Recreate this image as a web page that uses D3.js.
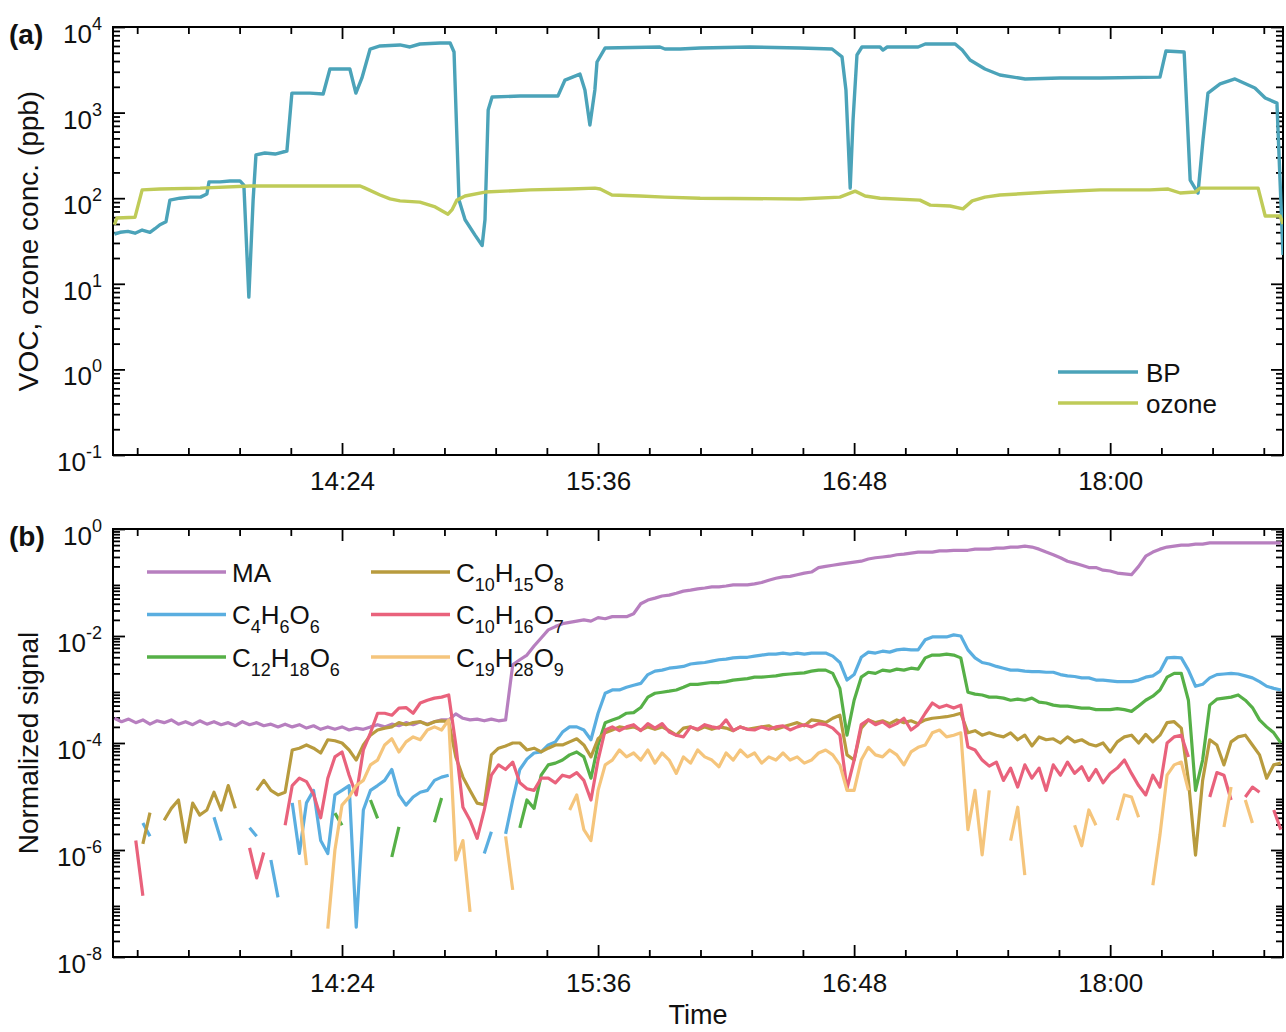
<!DOCTYPE html>
<html>
<head>
<meta charset="utf-8">
<script src="https://cdn.jsdelivr.net/npm/d3@7"></script>
<style>
  body { margin: 0; background: #fff; }
  svg { display: block; font-family: Arial, "Liberation Sans", Helvetica, sans-serif; }
</style>
</head>
<body>
<svg id="chart" width="1286" height="1032"></svg>
<script>
// Time is in minutes after midnight

// Panel (a): BP
var bpTime = [
  800, 801.6, 803.8, 805.8, 807.8, 810, 811.4, 812.8, 814.5, 815.6,
  818.4, 821.3, 824.2, 826, 826.6, 829.7, 832.5, 835.3, 836.4, 837.8,
  839, 839.8, 842.3, 845.2, 848.5, 849.9, 855, 858.7, 860.6, 866.2,
  867.9, 869.6, 871.9, 874.7, 880.3, 883.1, 885.9, 891.6, 894.4, 895.5,
  896.9, 898.6, 901.4, 903.4, 904.2, 905.1, 906.2, 914.1, 924.7, 926.7,
  930.9, 932.3, 933.7, 935.1, 935.7, 938, 953.4, 954.8, 959.1, 964.7,
  978.7, 992.8, 1001.8, 1004.6, 1005.7, 1006.9, 1007.7, 1008.8, 1010.2, 1015.3,
  1016.1, 1017.3, 1026, 1028, 1036.4, 1038.4, 1040.6, 1044.8, 1049, 1056.1,
  1065.9, 1077.2, 1094, 1095.7, 1100.8, 1102.5, 1104.7, 1106.1, 1107.5, 1110.9,
  1115.1, 1120.7, 1123.6, 1126.9, 1128.6
];
var bpConc = [
  38, 40, 41, 39, 42.5, 40, 44, 49, 53, 95,
  100, 103, 103, 112, 155, 155, 159, 159, 142, 7,
  95, 320, 337, 328, 356, 1690, 1690, 1650, 3230, 3230,
  1690, 2540, 5530, 6000, 6170, 5840, 6330, 6500, 6500, 5100,
  95, 56, 37, 28, 56, 1070, 1520, 1560, 1560, 2400,
  2820, 1840, 716, 1840, 3900, 5690, 5840, 5530, 5530, 5690,
  5840, 5690, 5530, 4470, 1840, 131, 820, 4710, 5840, 5840,
  5380, 5840, 5840, 6330, 6330, 5380, 4110, 3230, 2750, 2470,
  2540, 2540, 2600, 5250, 5100, 163, 115, 478, 1690, 2160,
  2470, 1940, 1480, 1290, 21.7
];

// Panel (a): ozone
var ozTime = [
  800, 800.7, 805.8, 807.8, 812.8, 824.1, 838.1, 852.2, 863.4, 869.1,
  870.5, 874.7, 877.5, 880.3, 885.9, 890.2, 893.8, 894.9, 896.3, 898.6,
  904.2, 916.9, 928.1, 935.1, 936.6, 939.9, 947.8, 954.8, 964.7, 992.8,
  1004, 1008.3, 1011.1, 1015.3, 1026.5, 1029.4, 1035, 1038.6, 1041.2, 1044.8,
  1049, 1063.1, 1077.2, 1091.2, 1096.3, 1099.7, 1103.9, 1105.3, 1121.6, 1123.6,
  1127.8, 1128.6
];
var ozConc = [
  49, 58.7, 60, 125, 128, 131, 139, 139, 139, 139,
  131, 109, 98, 93, 90, 79, 65, 73, 95, 106,
  118, 125, 128, 131, 128, 109, 106, 103, 100, 98,
  103, 121, 106, 100, 95, 83, 81, 75, 93, 103,
  109, 118, 125, 125, 128, 115, 118, 131, 131, 62,
  62, 50
];

// Panel (b): signals sampled every 2 min from 13:20
var sigStart = 800, sigStep = 2;

var maSig = [
  2.9e-4, 2.5e-4, 2.8e-4, 2.4e-4, 2.7e-4, 2.25e-4, 2.6e-4, 2.4e-4, 2.7e-4, 2.25e-4,
  2.5e-4, 2.2e-4, 2.6e-4, 2.25e-4, 2.5e-4, 2.2e-4, 2.4e-4, 2.1e-4, 2.5e-4, 2.2e-4,
  2.4e-4, 2.1e-4, 2.25e-4, 2e-4, 2.25e-4, 2e-4, 2.2e-4, 1.9e-4, 2.1e-4, 1.8e-4,
  2e-4, 1.8e-4, 2e-4, 1.75e-4, 1.9e-4, 1.8e-4, 2e-4, 2.2e-4, 2e-4, 2.25e-4,
  2.1e-4, 2.4e-4, 2.2e-4, 2.5e-4, 2.25e-4, 2.5e-4, 2.7e-4, 2.7e-4, 3.5e-4, 2.9e-4,
  2.7e-4, 2.8e-4, 2.6e-4, 2.8e-4, 2.6e-4, 2.7e-4, 2.9e-3, 3.6e-3, 4.4e-3, 6.5e-3,
  9.2e-3, 1.3e-2, 1.5e-2, 1.7e-2, 1.8e-2, 1.9e-2, 2e-2, 1.9e-2, 2.2e-2, 2.1e-2,
  2.3e-2, 2.3e-2, 2.3e-2, 2.6e-2, 4e-2, 4.7e-2, 5.1e-2, 5.6e-2, 5.8e-2, 6.3e-2,
  6.9e-2, 7.2e-2, 7.6e-2, 7.9e-2, 8.3e-2, 8.3e-2, 8.6e-2, 9e-2, 9e-2, 9e-2,
  9.4e-2, 0.1, 0.11, 0.12, 0.127, 0.13, 0.14, 0.15, 0.157, 0.19,
  0.2, 0.21, 0.22, 0.23, 0.24, 0.25, 0.275, 0.29, 0.3, 0.31,
  0.33, 0.34, 0.355, 0.37, 0.37, 0.37, 0.39, 0.39, 0.4, 0.4,
  0.4, 0.42, 0.42, 0.42, 0.44, 0.44, 0.46, 0.46, 0.48, 0.46,
  0.42, 0.37, 0.33, 0.29, 0.25, 0.23, 0.21, 0.19, 0.19, 0.17,
  0.164, 0.15, 0.145, 0.14, 0.2, 0.31, 0.37, 0.42, 0.46, 0.48,
  0.5, 0.5, 0.52, 0.52, 0.55, 0.55, 0.55, 0.55, 0.55, 0.55,
  0.55, 0.55, 0.55, 0.55, 0.55
];

var c4h6o6Sig = [
  null, null, null, null, 3.2e-6, 1.8e-6, null, null, null, null,
  null, null, null, null, 4.1e-6, 1.5e-6, null, null, null, 2.6e-6,
  1.8e-6, null, 6.5e-7, 1.3e-7, null, 7.6e-6, 8.6e-7, 7.6e-6, 1.3e-5, 1.5e-6,
  8.6e-7, 1.07e-5, 1.3e-5, 1.6e-5, 3.6e-8, 5.6e-6, 1.3e-5, 1.6e-5, 2e-5, 3.2e-5,
  1.07e-5, 6.9e-6, 9.8e-6, 1.2e-5, 1.3e-5, 2e-5, 2.3e-5, 2.5e-5, null, null,
  null, null, 8.6e-7, 2.2e-6, null, 2e-6, 8.6e-6, 3.2e-5, 5e-5, 6.5e-5,
  6.8e-5, 9.2e-5, 1.05e-4, 1.6e-4, 2e-4, 2e-4, 1.75e-4, 1.15e-4, 3.6e-4, 8.5e-4,
  9.8e-4, 9.8e-4, 1.1e-3, 1.2e-3, 1.3e-3, 1.9e-3, 2.2e-3, 2.3e-3, 2.5e-3, 2.6e-3,
  2.7e-3, 3e-3, 3.1e-3, 3.2e-3, 3.4e-3, 3.6e-3, 3.7e-3, 3.9e-3, 4e-3, 4e-3,
  4.2e-3, 4.4e-3, 4.6e-3, 4.6e-3, 4.8e-3, 4.6e-3, 4.8e-3, 4.6e-3, 4.8e-3, 4.8e-3,
  4.8e-3, 4.2e-3, 3.2e-3, 1.5e-3, 1.9e-3, 4e-3, 5e-3, 4.8e-3, 5.2e-3, 5e-3,
  5.5e-3, 5.7e-3, 5.5e-3, 5.5e-3, 8.5e-3, 9.6e-3, 9.6e-3, 9.6e-3, 1.05e-2, 1e-2,
  5.5e-3, 3.9e-3, 3.2e-3, 3e-3, 2.7e-3, 2.5e-3, 2.3e-3, 2.3e-3, 2.2e-3, 2.15e-3,
  2.15e-3, 2.1e-3, 2.1e-3, 1.9e-3, 1.8e-3, 1.75e-3, 1.65e-3, 1.65e-3, 1.5e-3, 1.5e-3,
  1.45e-3, 1.4e-3, 1.4e-3, 1.4e-3, 1.5e-3, 1.7e-3, 1.8e-3, 2.2e-3, 3.9e-3, 4e-3,
  3.9e-3, 2.3e-3, 1.15e-3, 1.25e-3, 1.65e-3, 1.9e-3, 1.95e-3, 2e-3, 1.95e-3, 1.8e-3,
  1.65e-3, 1.4e-3, 1.15e-3, 1.05e-3, 9.8e-4
];

var c12h18o6Sig = [
  null, null, null, null, null, null, null, null, null, null,
  null, null, null, null, null, null, null, null, null, null,
  null, null, null, null, null, null, null, null, null, null,
  null, 4.9e-6, 2.9e-6, null, null, null, 8.6e-6, 3.9e-6, null, 7.4e-7,
  2.7e-6, null, null, null, null, 3.3e-6, 9.4e-6, null, null, null,
  null, null, null, null, null, null, null, 2.6e-6, 8.6e-6, 6e-6,
  2.5e-5, 3.9e-5, 4.2e-5, 4.8e-5, 6e-5, 6.8e-5, 5.5e-5, 2.2e-5, 9.2e-5, 2.4e-4,
  2.7e-4, 3e-4, 3.6e-4, 3.7e-4, 4.6e-4, 7.2e-4, 8.5e-4, 8.9e-4, 9.3e-4, 9.8e-4,
  1.1e-3, 1.25e-3, 1.25e-3, 1.3e-3, 1.35e-3, 1.35e-3, 1.4e-3, 1.5e-3, 1.55e-3, 1.6e-3,
  1.7e-3, 1.7e-3, 1.75e-3, 1.8e-3, 1.9e-3, 1.95e-3, 2e-3, 2.05e-3, 2.2e-3, 2.3e-3,
  2.3e-3, 2e-3, 1.05e-3, 1.4e-4, 6.3e-4, 1.7e-3, 2.1e-3, 2e-3, 2.3e-3, 2.2e-3,
  2.4e-3, 2.3e-3, 2.5e-3, 2.4e-3, 3.9e-3, 4.4e-3, 4.4e-3, 4.6e-3, 4.4e-3, 3.9e-3,
  8.9e-4, 8.2e-4, 7.9e-4, 7.2e-4, 7.2e-4, 6.9e-4, 6.3e-4, 6.6e-4, 6.3e-4, 6.9e-4,
  5.8e-4, 5.6e-4, 5.1e-4, 4.9e-4, 4.9e-4, 4.7e-4, 4.5e-4, 4.5e-4, 4.2e-4, 4.2e-4,
  4.2e-4, 4.4e-4, 4.2e-4, 3.9e-4, 4.9e-4, 6.3e-4, 7.5e-4, 9.8e-4, 1.7e-3, 2e-3,
  2e-3, 6.3e-4, 1.3e-5, 4.8e-5, 5.1e-4, 6.6e-4, 6.9e-4, 7.2e-4, 7.9e-4, 6.3e-4,
  4.6e-4, 2.7e-4, 2e-4, 1.55e-4, 1e-4
];

var c10h15o8Sig = [
  null, null, null, null, 1.3e-6, 5e-6, null, 3.6e-6, 6e-6, 8.6e-6,
  1.4e-6, 7.5e-6, 4.5e-6, 5.6e-6, 1.2e-5, 5.6e-6, 1.6e-5, 6e-6, null, null,
  1.3e-5, 2e-5, 1.3e-5, 1.07e-5, 1.2e-5, 7.4e-5, 8e-5, 9.2e-5, 8e-5, 6.5e-5,
  1.15e-4, 1.1e-4, 1e-4, 7.4e-5, 4.8e-5, 9.2e-5, 1.4e-4, 1.75e-4, 1.9e-4, 2e-4,
  2.4e-4, 2.2e-4, 2.4e-4, 2.5e-4, 2.2e-4, 2.5e-4, 2.6e-4, 2.5e-4, 5.5e-5, 2.3e-5,
  1.3e-5, 7.5e-6, 7e-6, 6e-5, 8e-5, 8.8e-5, 1e-4, 1e-4, 7.4e-5, 8e-5,
  6.8e-5, 8e-5, 9.2e-5, 9.2e-5, 1.05e-4, 1.2e-4, 9.2e-5, 5.5e-5, 1.2e-4, 1.55e-4,
  1.75e-4, 2e-4, 1.9e-4, 2e-4, 1.75e-4, 2e-4, 1.8e-4, 2e-4, 1.7e-4, 1.4e-4,
  1.9e-4, 2e-4, 1.75e-4, 2e-4, 1.8e-4, 2e-4, 1.9e-4, 1.7e-4, 2e-4, 1.8e-4,
  1.9e-4, 2e-4, 2.1e-4, 1.8e-4, 2e-4, 2.2e-4, 2.4e-4, 2.1e-4, 2.7e-4, 2.6e-4,
  2.4e-4, 2.9e-4, 3.3e-4, 6e-5, 4.8e-5, 1.9e-4, 2.7e-4, 2.4e-4, 2.6e-4, 2.3e-4,
  2.7e-4, 2.4e-4, 2.6e-4, 2.3e-4, 2.7e-4, 2.9e-4, 3e-4, 3.1e-4, 3.3e-4, 3.6e-4,
  1.55e-4, 1.7e-4, 1.4e-4, 1.55e-4, 1.4e-4, 1.3e-4, 1.55e-4, 1.15e-4, 1.4e-4, 8.8e-5,
  1.3e-4, 1.15e-4, 1.2e-4, 1e-4, 1.3e-4, 1.05e-4, 1.15e-4, 9.6e-5, 8.8e-5, 1e-4,
  6.8e-5, 1.05e-4, 1.3e-4, 1.4e-4, 1e-4, 1.45e-4, 1.05e-4, 1.4e-4, 2.4e-4, 2.5e-4,
  1.9e-4, 2e-5, 8e-7, 2e-5, 1.15e-4, 9.2e-5, 3.9e-5, 1.05e-4, 1.3e-4, 1.4e-4,
  9.2e-5, 6e-5, 2.2e-5, 3.9e-5, 4.2e-5
];

var c10h16o7Sig = [
  null, null, null, 1.5e-6, 1.4e-7, null, null, null, null, null,
  null, null, null, null, null, null, null, null, null, 1.1e-6,
  3e-7, 9e-7, null, null, 2.9e-6, 1.6e-5, 2.2e-5, 1.9e-5, 1.1e-5, 4e-6,
  2.2e-5, 5.5e-5, 6.8e-5, 2.5e-5, 1.07e-5, 7.4e-5, 1.55e-4, 3.6e-4, 3.6e-4, 3.3e-4,
  4.5e-4, 4.6e-4, 3.6e-4, 5.6e-4, 6.3e-4, 6.9e-4, 7.2e-4, 7.9e-4, 9.2e-5, 6.3e-6,
  3.6e-6, 1.65e-6, 5.6e-6, 2.5e-5, 3.9e-5, 3.2e-5, 4.4e-5, 1.8e-5, 1.4e-5, 1.3e-5,
  2.2e-5, 2.2e-5, 1.8e-5, 2.5e-5, 2.3e-5, 2.8e-5, 2e-5, 8.6e-6, 4.8e-5, 1.75e-4,
  2e-4, 1.7e-4, 2e-4, 2.2e-4, 1.7e-4, 2.3e-4, 1.9e-4, 2.3e-4, 1.6e-4, 1.4e-4,
  1.3e-4, 2e-4, 1.8e-4, 2.2e-4, 2e-4, 1.9e-4, 2.7e-4, 1.7e-4, 2e-4, 1.8e-4,
  1.75e-4, 2e-4, 1.8e-4, 2e-4, 2.1e-4, 1.75e-4, 2e-4, 2.2e-4, 2e-4, 2.3e-4,
  2.2e-4, 1.9e-4, 1.4e-4, 1.4e-5, 4.8e-5, 2.2e-4, 2.7e-4, 2.2e-4, 2.5e-4, 2e-4,
  2.3e-4, 2.9e-4, 1.75e-4, 2.2e-4, 3.6e-4, 5.6e-4, 4.6e-4, 5.1e-4, 4.5e-4, 5.1e-4,
  8.4e-5, 7.4e-5, 4.8e-5, 3.7e-5, 4.4e-5, 2e-5, 3.4e-5, 1.5e-5, 3.9e-5, 2.2e-5,
  3.4e-5, 1.3e-5, 3.9e-5, 2.5e-5, 4.4e-5, 2.7e-5, 3.6e-5, 2e-5, 3.2e-5, 1.8e-5,
  2.7e-5, 3.4e-5, 4.8e-5, 2.7e-5, 1.6e-5, 1.07e-5, 2.5e-5, 1.5e-5, 1e-4, 1.3e-4,
  1.4e-4, 5.5e-5, null, null, 9.8e-6, 2.8e-5, 2.5e-5, 8.6e-6, null, 9.8e-6,
  1.5e-5, 1.2e-5, null, 5.6e-6, 2.4e-6
];

var c19h28o9Sig = [
  null, null, null, null, null, null, null, null, null, null,
  null, null, null, null, null, null, null, null, null, null,
  null, null, null, null, null, null, 8.6e-6, 5.2e-7, null, null,
  3.4e-8, 1e-6, 6.9e-6, 9.8e-6, 1.6e-5, 2e-5, 3.9e-5, 4.8e-5, 9.2e-5, 1.2e-4,
  6.8e-5, 1.05e-4, 1.3e-4, 1.15e-4, 1.75e-4, 2e-4, 1.75e-4, 2.7e-4, 6.5e-7, 1.5e-6,
  7e-8, null, null, null, null, 1.8e-6, 1.8e-7, null, null, null,
  null, null, null, null, 5.6e-6, 1.07e-5, 2.4e-6, 1.5e-6, 1.3e-5, 3.9e-5,
  4.8e-5, 7.4e-5, 5.5e-5, 6.5e-5, 4.8e-5, 7.4e-5, 4.2e-5, 6.5e-5, 4.8e-5, 2.7e-5,
  5.5e-5, 4.2e-5, 7.4e-5, 5.5e-5, 4.8e-5, 3.6e-5, 6.5e-5, 4.8e-5, 7.4e-5, 5.5e-5,
  6.5e-5, 4.2e-5, 5.5e-5, 4.8e-5, 6.5e-5, 4.8e-5, 5.5e-5, 4.2e-5, 4.8e-5, 6.5e-5,
  7.4e-5, 6e-5, 3.9e-5, 1.3e-5, 1.3e-5, 4.8e-5, 8.3e-5, 6e-5, 5.5e-5, 7.4e-5,
  6e-5, 3.9e-5, 6.8e-5, 8.3e-5, 9.2e-5, 1.55e-4, 1.75e-4, 1.3e-4, 1.4e-4, 1.55e-4,
  2.4e-6, 1.3e-5, 8.1e-7, 1.3e-5, null, null, 1.5e-6, 6.3e-6, 3.4e-7, null,
  null, null, null, null, null, 2.9e-6, 1.2e-6, 5.6e-6, 2.9e-6, null,
  null, 3.6e-6, 1.07e-5, 9.8e-6, 4.1e-6, null, 2.2e-7, 1.9e-6, 2.5e-5, 3.9e-5,
  4.4e-5, 1.3e-5, null, null, null, null, 2.7e-6, 1.5e-5, null, 8.6e-6,
  3.2e-6, null, null, null, null
];

// Axis ticks
var majorTimes = [864, 936, 1008, 1080];
var topDecades = [0.1, 1, 10, 100, 1000, 10000];
var botDecades = [1e-8, 1e-6, 1e-4, 1e-2, 1];

var svg = d3.select('#chart');

var left = 113, right = 1283;
var x = d3.scaleLinear().domain([799.6, 1128.6]).range([left, right]);

var fmtTime = function(m) {
  var h = Math.floor(m / 60), mm = Math.round(m - h * 60);
  return h + ':' + (mm < 10 ? '0' : '') + mm;
};

// minor ticks every 0.01 day (14.4 min)
var minorTimes = d3.range(806.4, 1128.6, 14.4).filter(function(t) {
  return majorTimes.every(function(m) { return Math.abs(m - t) > 0.5; });
});

function logMinors(lo, hi) {
  var out = [];
  for (var e = lo; e < hi; e++) {
    for (var k = 2; k <= 9; k++) out.push(k * Math.pow(10, e));
  }
  return out;
}

// Reusable panel frame with inward ticks on all four sides
var drawPanel = function(id, y, top, bottom, decades, minorVals, yTitle, tag) {
  var g = svg.append('g').attr('class', 'panel-' + id);

  var tickStyle = function(sel) {
    sel.select('.domain').remove();
    sel.selectAll('.tick line').attr('stroke', '#000').attr('stroke-width', 1.8);
  };

  // x ticks bottom/top
  g.append('g').attr('transform', 'translate(0,' + bottom + ')')
    .call(d3.axisBottom(x).tickValues(majorTimes).tickSize(-12).tickFormat(fmtTime))
    .call(tickStyle)
    .call(function(s) {
      s.selectAll('text').attr('y', 35).attr('dy', 0)
        .attr('font-size', 26).attr('fill', '#111').attr('font-family', null);
    });
  g.append('g').attr('transform', 'translate(0,' + bottom + ')')
    .call(d3.axisBottom(x).tickValues(minorTimes).tickSize(-7).tickFormat(''))
    .call(tickStyle);
  g.append('g').attr('transform', 'translate(0,' + top + ')')
    .call(d3.axisTop(x).tickValues(majorTimes).tickSize(-12).tickFormat(''))
    .call(tickStyle);
  g.append('g').attr('transform', 'translate(0,' + top + ')')
    .call(d3.axisTop(x).tickValues(minorTimes).tickSize(-7).tickFormat(''))
    .call(tickStyle);

  // y ticks left/right
  g.append('g').attr('transform', 'translate(' + left + ',0)')
    .call(d3.axisLeft(y).tickValues(decades).tickSize(-12).tickFormat(''))
    .call(tickStyle);
  g.append('g').attr('transform', 'translate(' + left + ',0)')
    .call(d3.axisLeft(y).tickValues(minorVals).tickSize(-7).tickFormat(''))
    .call(tickStyle);
  g.append('g').attr('transform', 'translate(' + right + ',0)')
    .call(d3.axisRight(y).tickValues(decades).tickSize(-12).tickFormat(''))
    .call(tickStyle);
  g.append('g').attr('transform', 'translate(' + right + ',0)')
    .call(d3.axisRight(y).tickValues(minorVals).tickSize(-7).tickFormat(''))
    .call(tickStyle);

  // 10^n labels
  decades.forEach(function(v) {
    var t = g.append('text')
      .attr('x', 102).attr('y', y(v) + 16)
      .attr('text-anchor', 'end').attr('font-size', 26).attr('fill', '#111');
    t.append('tspan').text('10');
    t.append('tspan').attr('font-size', 18).attr('dy', -13)
      .text(String(Math.round(Math.log10(v))));
  });

  // frame
  g.append('rect')
    .attr('x', left).attr('y', top)
    .attr('width', right - left).attr('height', bottom - top)
    .attr('fill', 'none').attr('stroke', '#000').attr('stroke-width', 2);

  // y title
  g.append('text')
    .attr('transform', 'translate(38,' + ((top + bottom) / 2) + ') rotate(-90)')
    .attr('text-anchor', 'middle').attr('font-size', 28).attr('fill', '#111')
    .text(yTitle);

  // panel tag
  g.append('text').attr('x', 9).attr('y', top + 17)
    .attr('font-size', 28).attr('font-weight', 'bold').attr('fill', '#111')
    .text(tag);

  // clip for data
  svg.append('clipPath').attr('id', 'clip-' + id)
    .append('rect').attr('x', left).attr('y', top)
    .attr('width', right - left).attr('height', bottom - top);

  return g;
};

// ---------- Panel (a) ----------
var yTop = d3.scaleLog().domain([0.1, 1e4]).range([455, 27]);
drawPanel('a', yTop, 27, 455, topDecades, logMinors(-1, 4), 'VOC, ozone conc. (ppb)', '(a)');

var lineTop = d3.line()
  .x(function(d) { return x(d[0]); })
  .y(function(d) { return yTop(d[1]); });

var topSeries = [
  {name: 'BP', color: '#4ba3b9', pts: d3.zip(bpTime, bpConc)},
  {name: 'ozone', color: '#bfcb58', pts: d3.zip(ozTime, ozConc)}
];

var dataA = svg.append('g').attr('clip-path', 'url(#clip-a)');
dataA.selectAll('path').data(topSeries).enter()
  .append('path')
  .attr('d', function(d) { return lineTop(d.pts); })
  .attr('fill', 'none')
  .attr('stroke', function(d) { return d.color; })
  .attr('stroke-width', 3.4)
  .attr('stroke-linejoin', 'round');

var legA = svg.append('g');
topSeries.forEach(function(s, i) {
  var ly = 372 + i * 31;
  legA.append('line').attr('x1', 1058).attr('x2', 1138).attr('y1', ly).attr('y2', ly)
    .attr('stroke', s.color).attr('stroke-width', 3.4);
  legA.append('text').attr('x', 1146).attr('y', ly + 9.5)
    .attr('font-size', 26).attr('fill', '#111').text(s.name);
});

// ---------- Panel (b) ----------
var yBot = d3.scaleLog().domain([1e-8, 1]).range([957, 529]);
drawPanel('b', yBot, 529, 957, botDecades, logMinors(-8, 0), 'Normalized signal', '(b)');

var lineBot = d3.line()
  .defined(function(d) { return d != null; })
  .x(function(d, i) { return x(sigStart + sigStep * i); })
  .y(function(d) { return yBot(d); });

var botSeries = [
  {name: 'MA', color: '#b77fbf', vals: maSig},
  {name: 'C4H6O6', color: '#5aaee0', vals: c4h6o6Sig},
  {name: 'C12H18O6', color: '#56b047', vals: c12h18o6Sig},
  {name: 'C10H15O8', color: '#b89b3e', vals: c10h15o8Sig},
  {name: 'C10H16O7', color: '#e9627c', vals: c10h16o7Sig},
  {name: 'C19H28O9', color: '#f5c57c', vals: c19h28o9Sig}
];

var dataB = svg.append('g').attr('clip-path', 'url(#clip-b)');
dataB.selectAll('path').data(botSeries).enter()
  .append('path')
  .attr('d', function(d) { return lineBot(d.vals); })
  .attr('fill', 'none')
  .attr('stroke', function(d) { return d.color; })
  .attr('stroke-width', 3.2)
  .attr('stroke-linejoin', 'round');

// legend with chemical subscripts, two columns
var legB = svg.append('g');
botSeries.forEach(function(s, i) {
  var col = Math.floor(i / 3), row = i % 3;
  var lx = col === 0 ? 147 : 371;
  var ly = 572 + row * 42.5;
  legB.append('line').attr('x1', lx).attr('x2', lx + 79).attr('y1', ly).attr('y2', ly)
    .attr('stroke', s.color).attr('stroke-width', 3.4);
  var t = legB.append('text').attr('x', lx + 85).attr('y', ly + 9.5)
    .attr('font-size', 26).attr('fill', '#111');
  var parts = s.name.match(/[A-Z][a-z]?|\d+/g);
  var wasSub = false;
  parts.forEach(function(p) {
    var isSub = /^\d+$/.test(p);
    var ts = t.append('tspan').text(p);
    if (isSub) {
      ts.attr('font-size', 18).attr('dy', wasSub ? 0 : 9);
    } else if (wasSub) {
      ts.attr('dy', -9);
    }
    wasSub = isSub;
  });
});

// x title
svg.append('text').attr('x', (left + right) / 2).attr('y', 1024)
  .attr('text-anchor', 'middle').attr('font-size', 27).attr('fill', '#111')
  .text('Time');
</script>
</body>
</html>
